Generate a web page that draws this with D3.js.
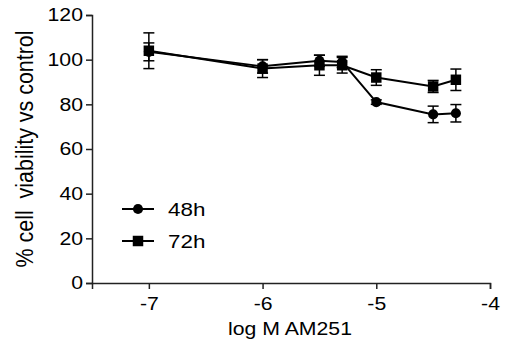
<!DOCTYPE html>
<html>
<head>
<meta charset="utf-8">
<script src="https://cdn.jsdelivr.net/npm/d3@7"></script>
<style>
  body { margin: 0; background: #fff; }
  text { font-family: "Liberation Sans", Arial, sans-serif; fill: #000; }
</style>
</head>
<body>
<svg id="chart"></svg>
<script>
const WIDTH = 507;
const HEIGHT = 352;

// log M AM251 concentrations
const doses = [-7, -6, -5.5, -5.3, -5, -4.5, -4.3];
const mean48 = [103.5, 97, 99.5, 99, 81, 75.5, 76];
const sem48 = [4, 3, 2.5, 2.5, 1, 3.7, 3.9];
const mean72 = [104, 96, 97.5, 97.5, 92, 88, 91];
const sem72 = [8, 4, 4.5, 3.5, 3.5, 2.7, 4.8];
const xTicks = [-7, -6, -5, -4];
const yTicks = [0, 20, 40, 60, 80, 100, 120];
const seriesNames = ["48h", "72h"];

const STRETCH = 1.18; // text in the original is a bit wide

const svg = d3.select("#chart").attr("width", WIDTH).attr("height", HEIGHT);

const xScale = d3.scaleLinear([-7.5, -4], [92, 490]);
const yScale = d3.scaleLinear([0, 120], [283, 15]);

function widen(sel) {
	sel.each(function () {
		const w = this.getComputedTextLength();
		this.setAttribute("textLength", w * STRETCH);
		this.setAttribute("lengthAdjust", "spacingAndGlyphs");
	});
}

const yAxis = svg.append("g")
	.attr("transform", `translate(${xScale(-7.5)},0)`)
	.call(d3.axisLeft(yScale).tickValues(yTicks).tickSize(6).tickPadding(3).tickFormat(d3.format("d")));
const xAxis = svg.append("g")
	.attr("transform", `translate(0,${yScale(0)})`)
	.call(d3.axisBottom(xScale).tickValues(xTicks).tickSize(6).tickPadding(8).tickFormat(d => d3.format("d")(d).replace("−", "-")));

for (const ax of [xAxis, yAxis]) {
	ax.select(".domain").attr("stroke", "#222").attr("stroke-width", 1.5);
	ax.selectAll(".tick line").attr("stroke", "#222").attr("stroke-width", 1.5);
	ax.selectAll(".tick text").attr("font-size", 18).attr("font-family", "Liberation Sans, Arial, sans-serif").attr("fill", "#000").call(widen);
}

svg.append("text")
	.attr("x", 290)
	.attr("y", 335)
	.attr("text-anchor", "middle")
	.attr("font-size", 18)
	.text("log M AM251")
	.call(widen);

svg.append("text")
	.attr("transform", "translate(33,149) scale(1.15,1) rotate(-90)")
	.attr("text-anchor", "middle")
	.attr("font-size", 20)
	.attr("textLength", 237)
	.attr("lengthAdjust", "spacingAndGlyphs")
	.style("white-space", "pre")
	.text("% cell  viability vs control");

const series = [
	{ name: seriesNames[0], mean: mean48, sem: sem48, shape: d3.symbolCircle, size: 80 },
	{ name: seriesNames[1], mean: mean72, sem: sem72, shape: d3.symbolSquare, size: 110 },
];

const line = d3.line().x(d => xScale(d[0])).y(d => yScale(d[1]));

for (const s of series) {
	const pts = doses.map((x, i) => [x, s.mean[i], s.sem[i]]);
	const g = svg.append("g");
	g.append("path")
		.attr("d", line(pts))
		.attr("fill", "none")
		.attr("stroke", "#000")
		.attr("stroke-width", 2);
	const eb = g.selectAll(".eb").data(pts).join("g").attr("class", "eb");
	eb.append("line")
		.attr("x1", d => xScale(d[0])).attr("x2", d => xScale(d[0]))
		.attr("y1", d => yScale(d[1] - d[2])).attr("y2", d => yScale(d[1] + d[2]))
		.attr("stroke", "#000").attr("stroke-width", 1.5);
	for (const sign of [-1, 1]) {
		eb.append("line")
			.attr("x1", d => xScale(d[0]) - 5.5).attr("x2", d => xScale(d[0]) + 5.5)
			.attr("y1", d => yScale(d[1] + sign * d[2])).attr("y2", d => yScale(d[1] + sign * d[2]))
			.attr("stroke", "#000").attr("stroke-width", 1.5);
	}
	g.selectAll(".pt").data(pts).join("path")
		.attr("class", "pt")
		.attr("transform", d => `translate(${xScale(d[0])},${yScale(d[1])})`)
		.attr("d", d3.symbol(s.shape, s.size))
		.attr("fill", "#000");
}

// legend
const legend = svg.append("g");
series.forEach((s, i) => {
	const y = 209 + i * 32;
	legend.append("line")
		.attr("x1", 122).attr("x2", 154).attr("y1", y).attr("y2", y)
		.attr("stroke", "#000").attr("stroke-width", 2);
	legend.append("path")
		.attr("transform", `translate(138,${y})`)
		.attr("d", d3.symbol(s.shape, s.size))
		.attr("fill", "#000");
	legend.append("text")
		.attr("x", 168).attr("y", y + 7)
		.attr("font-size", 19)
		.text(s.name)
		.call(widen);
});
</script>
</body>
</html>
